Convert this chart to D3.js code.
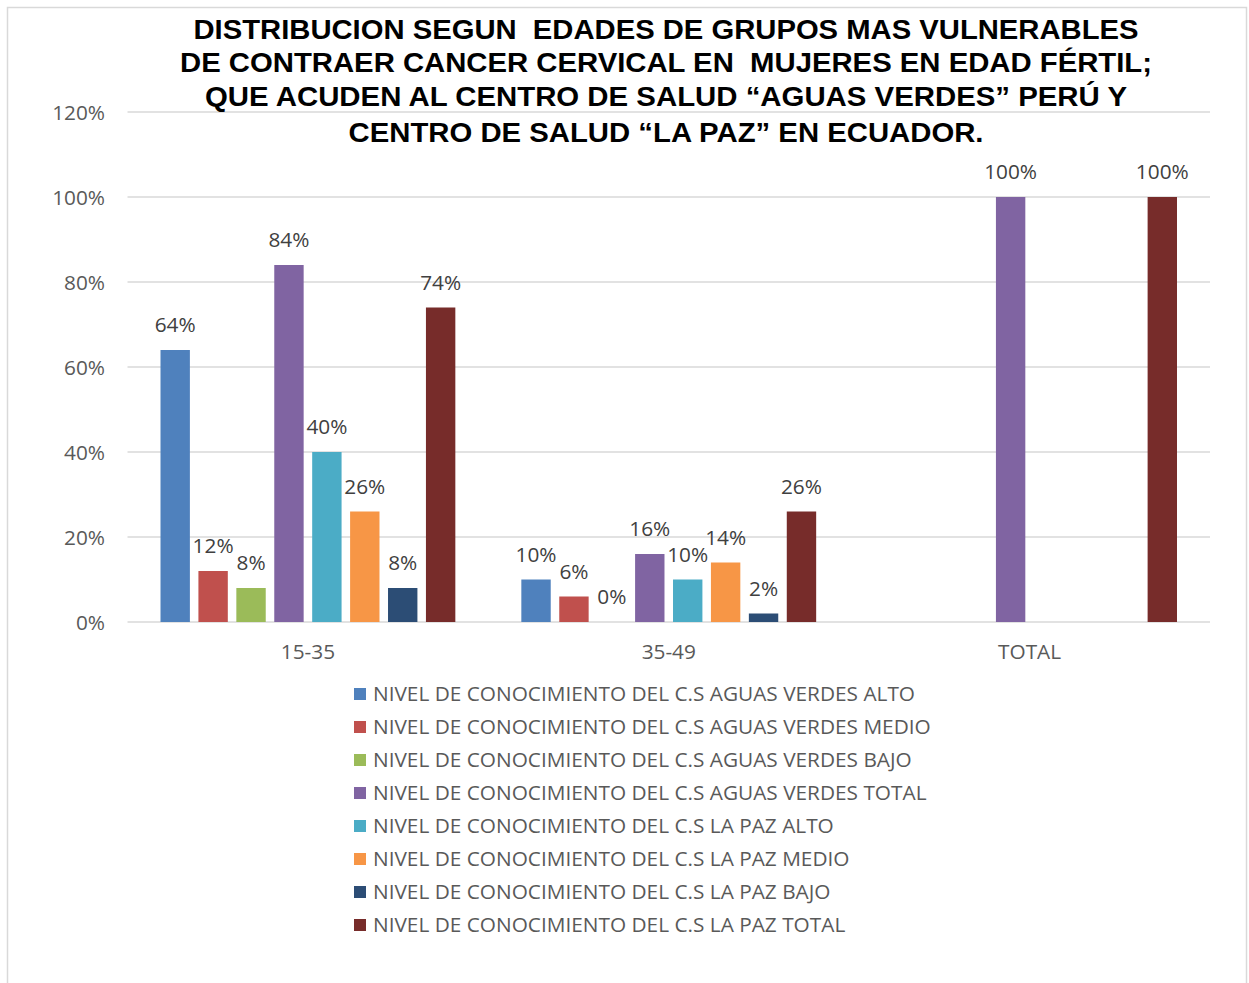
<!DOCTYPE html>
<html>
<head>
<meta charset="utf-8">
<script src="https://cdn.jsdelivr.net/npm/d3@7"></script>
<style>
  html, body { margin: 0; padding: 0; background: #fff; }
  svg { display: block; }
</style>
</head>
<body>
<svg id="chart" width="1249" height="983"></svg>
<script>
// ---- data ----
const categories = ["15-35", "35-49", "TOTAL"];
const seriesNames = [
  "NIVEL DE CONOCIMIENTO DEL C.S AGUAS VERDES ALTO",
  "NIVEL DE CONOCIMIENTO DEL C.S AGUAS VERDES MEDIO",
  "NIVEL DE CONOCIMIENTO DEL C.S AGUAS VERDES BAJO",
  "NIVEL DE CONOCIMIENTO DEL C.S AGUAS VERDES TOTAL",
  "NIVEL DE CONOCIMIENTO DEL C.S LA PAZ ALTO",
  "NIVEL DE CONOCIMIENTO DEL C.S LA PAZ MEDIO",
  "NIVEL DE CONOCIMIENTO DEL C.S LA PAZ BAJO",
  "NIVEL DE CONOCIMIENTO DEL C.S LA PAZ TOTAL"
];
const seriesColors = ["#4F81BD", "#C0504D", "#9BBB59", "#8064A2", "#4BACC6", "#F79646", "#2C4D75", "#772C2A"];
// values per series, in category order (null = no value)
const avAlto  = [0.64, 0.10, null];
const avMedio = [0.12, 0.06, null];
const avBajo  = [0.08, 0.00, null];
const avTotal = [0.84, 0.16, 1.00];
const lpAlto  = [0.40, 0.10, null];
const lpMedio = [0.26, 0.14, null];
const lpBajo  = [0.08, 0.02, null];
const lpTotal = [0.74, 0.26, 1.00];
const seriesValues = [avAlto, avMedio, avBajo, avTotal, lpAlto, lpMedio, lpBajo, lpTotal];
const yTicks = [0, 0.2, 0.4, 0.6, 0.8, 1.0, 1.2];
const titleLines = [
  "DISTRIBUCION SEGUN  EDADES DE GRUPOS MAS VULNERABLES",
  "DE CONTRAER CANCER CERVICAL EN  MUJERES EN EDAD FÉRTIL;",
  "QUE ACUDEN AL CENTRO DE SALUD “AGUAS VERDES” PERÚ Y",
  "CENTRO DE SALUD “LA PAZ” EN ECUADOR."
];

// ---- layout ----
const svg = d3.select("#chart");
const plot = { left: 127.5, right: 1210, top: 112, bottom: 622 };
const bodyFont = "'Open Sans', 'Noto Sans', sans-serif";
const bodySize = 20.8;

// outer border
svg.append("rect")
  .attr("x", 7.5).attr("y", 7.5)
  .attr("width", 1239).attr("height", 1000)
  .attr("fill", "#fff").attr("stroke", "#d9d9d9").attr("stroke-width", 1.5);

const x0 = d3.scaleBand().domain(categories).range([plot.left, plot.right]).paddingInner(0).paddingOuter(0);
const x1 = d3.scaleBand().domain(d3.range(seriesNames.length))
  .range([33, x0.bandwidth() - 33]).paddingInner(0.225).paddingOuter(0);
const y = d3.scaleLinear().domain([0, 1.2]).range([plot.bottom, plot.top]);

// gridlines
svg.append("g").selectAll("line").data(yTicks).join("line")
  .attr("x1", plot.left).attr("x2", plot.right)
  .attr("y1", d => y(d)).attr("y2", d => y(d))
  .attr("stroke", "#d9d9d9").attr("stroke-width", 1.5);

// y axis labels
const yAxis = d3.axisLeft(y).tickValues(yTicks).tickFormat(d3.format(".0%")).tickSize(0).tickPadding(0);
const gy = svg.append("g").attr("transform", `translate(105,0)`).call(yAxis);
gy.select(".domain").remove();
gy.selectAll("text").attr("font-family", bodyFont).attr("font-size", bodySize).attr("fill", "#595959").attr("dy", "0.35em");

// x axis labels
const xAxis = d3.axisBottom(x0).tickSize(0).tickPadding(0);
const gx = svg.append("g").attr("transform", `translate(0,${plot.bottom + 24})`).call(xAxis);
gx.select(".domain").remove();
gx.selectAll("text").attr("font-family", bodyFont).attr("font-size", bodySize).attr("fill", "#595959").attr("dy", "0.35em").attr("y", 6);

// bars
const flat = [];
categories.forEach((c, ci) => {
  seriesValues.forEach((vals, si) => {
    if (vals[ci] !== null) flat.push({ cat: c, s: si, v: vals[ci] });
  });
});
svg.append("g").selectAll("rect").data(flat).join("rect")
  .attr("x", d => x0(d.cat) + x1(d.s))
  .attr("width", x1.bandwidth())
  .attr("y", d => y(d.v))
  .attr("height", d => y(0) - y(d.v))
  .attr("fill", d => seriesColors[d.s]);

// data labels
svg.append("g").selectAll("text").data(flat).join("text")
  .attr("x", d => x0(d.cat) + x1(d.s) + x1.bandwidth() / 2)
  .attr("y", d => y(d.v) - 25)
  .attr("dy", "0.35em")
  .attr("text-anchor", "middle")
  .attr("font-family", bodyFont).attr("font-size", bodySize).attr("fill", "#404040")
  .text(d => d3.format(".0%")(d.v));

// title
const titleWidths = [945, 972, 922, 635];
const titleY = [29, 62, 96, 132];
svg.append("g").selectAll("text").data(titleLines).join("text")
  .attr("x", 666).attr("y", (d, i) => titleY[i])
  .attr("dy", "0.36em")
  .attr("text-anchor", "middle")
  .style("white-space", "pre")
  .attr("font-family", "'Liberation Sans', Arial, sans-serif")
  .attr("font-weight", "bold").attr("font-size", 27.5).attr("fill", "#000")
  .attr("textLength", (d, i) => titleWidths[i])
  .attr("lengthAdjust", "spacingAndGlyphs")
  .text(d => d);

// legend
const leg = svg.append("g").selectAll("g").data(seriesNames).join("g")
  .attr("transform", (d, i) => `translate(354,${694 + i * 33})`);
leg.append("rect").attr("x", 0).attr("y", -6).attr("width", 12).attr("height", 12)
  .attr("fill", (d, i) => seriesColors[i]);
leg.append("text").attr("x", 19).attr("y", 0).attr("dy", "0.35em")
  .attr("font-family", bodyFont).attr("font-size", bodySize).attr("fill", "#595959")
  .text(d => d);
</script>
</body>
</html>
